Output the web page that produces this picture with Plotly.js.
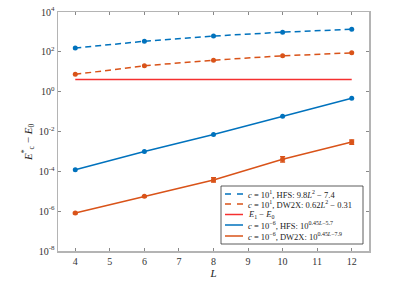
<!DOCTYPE html>
<html><head><meta charset="utf-8">
<script src="https://cdn.plot.ly/plotly-3.0.1.min.js"></script>
<style>html,body{margin:0;padding:0;background:#fff}#c{width:415px;height:300px}</style>
</head><body><div id="c"></div>
<script>
// Data
const L = [4, 6, 8, 10, 12];
const hfsC1 = [155, 340, 620, 975, 1360];
const dw2xC1 = [7.4, 20, 38, 63, 89];
const gapL = [4, 12];
const gapE = [4.1, 4.1];
const hfsC6 = [1.2e-4, 1.0e-3, 7.1e-3, 5.9e-2, 0.47];
const dw2xC6 = [8.0e-7, 5.6e-6, 3.7e-5, 4.0e-4, 2.95e-3];
const dw2xC6ErrPlus = [0.5e-7, 0.4e-6, 1.0e-5, 1.4e-4, 0.8e-3];
const dw2xC6ErrMinus = [0.5e-7, 0.4e-6, 0.8e-5, 1.1e-4, 0.65e-3];
const yTickVals = [1e-8, 1e-6, 1e-4, 1e-2, 1, 1e2, 1e4];
const yTickText = ['10<sup>-8</sup>','10<sup>-6</sup>','10<sup>-4</sup>','10<sup>-2</sup>','10<sup>0</sup>','10<sup>2</sup>','10<sup>4</sup>'];
const xTickVals = [4,5,6,7,8,9,10,11,12];
const legendLabels = [
  '<i>c</i> = 10<sup>1</sup>, HFS: 9.8<i>L</i><sup>2</sup> − 7.4',
  '<i>c</i> = 10<sup>1</sup>, DW2X: 0.62<i>L</i><sup>2</sup> − 0.31',
  '<i>E</i><sub>1</sub> − <i>E</i><sub>0</sub>',
  '<i>c</i> = 10<sup>−6</sup>, HFS: 10<sup>0.45<i>L</i>−5.7</sup>',
  '<i>c</i> = 10<sup>−6</sup>, DW2X: 10<sup>0.45<i>L</i>−7.9</sup>'
];

const BLUE = '#0072BD', ORANGE = '#D95319', RED = '#F53030';
const legendStyles = [
  {color: BLUE, dash: '6px,6px'},
  {color: ORANGE, dash: '6px,6px'},
  {color: RED, dash: 'solid'},
  {color: BLUE, dash: 'solid'},
  {color: ORANGE, dash: 'solid'}
];

const traces = [
  {x: L, y: hfsC1, mode: 'lines+markers', line: {color: BLUE, width: 1.5, dash: '6px,4px'}, marker: {color: BLUE, size: 5}},
  {x: L, y: dw2xC1, mode: 'lines+markers', line: {color: ORANGE, width: 1.5, dash: '6px,4px'}, marker: {color: ORANGE, size: 5}},
  {x: gapL, y: gapE, mode: 'lines', line: {color: RED, width: 1.5}},
  {x: L, y: hfsC6, mode: 'lines+markers', line: {color: BLUE, width: 1.5}, marker: {color: BLUE, size: 5}},
  {x: L, y: dw2xC6, mode: 'lines+markers', line: {color: ORANGE, width: 1.5}, marker: {color: ORANGE, size: 5},
   error_y: {type: 'data', array: dw2xC6ErrPlus, arrayminus: dw2xC6ErrMinus, symmetric: false, color: ORANGE, thickness: 1.5, width: 2.5}}
];

// Plot area in px: x 58..369, y 12..251
const px = v => (v - 58) / 311;
const py = v => (251 - v) / 239;
const rows = [194, 204, 214.5, 225, 236];
const shapes = [{type: 'rect', xref: 'paper', yref: 'paper', x0: px(221), x1: px(363), y0: py(244), y1: py(186),
  line: {color: '#333', width: 0.8}, fillcolor: '#fff', layer: 'above'}];
const annotations = [];
legendStyles.forEach((s, i) => {
  shapes.push({type: 'line', xref: 'paper', yref: 'paper', x0: px(225), x1: px(243), y0: py(rows[i]), y1: py(rows[i]),
    line: {color: s.color, width: 1.5, dash: s.dash}, layer: 'above'});
  annotations.push({xref: 'paper', yref: 'paper', x: px(246), y: py(rows[i]), xanchor: 'left', yanchor: 'middle',
    text: legendLabels[i], showarrow: false, font: {family: 'Liberation Serif', size: 8.5, color: '#222'}});
});
annotations.push({xref: 'paper', yref: 'paper', x: px(28), y: py(143), xanchor: 'center', yanchor: 'middle', textangle: -90,
  text: '<i>E</i><sup>*</sup><sub>c</sub> − <i>E</i><sub>0</sub>', showarrow: false, font: {family: 'Liberation Serif', size: 11, color: '#222'}});

const axisCommon = {showline: true, linecolor: '#b4b4b4', linewidth: 1.5, mirror: 'ticks', ticks: 'inside', ticklen: 3,
  tickcolor: '#888', tickwidth: 1, showgrid: false, zeroline: false,
  tickfont: {family: 'Liberation Serif', size: 10, color: '#333'}};

const layout = {
  width: 415, height: 300,
  margin: {l: 58, r: 46, t: 12, b: 49},
  paper_bgcolor: '#fff', plot_bgcolor: '#fff',
  showlegend: false,
  xaxis: Object.assign({}, axisCommon, {range: [3.5, 12.5], tickvals: xTickVals, ticktext: xTickVals.map(String),
    title: {text: '<i>L</i>', font: {family: 'Liberation Serif', size: 11, color: '#222'}, standoff: 4}}),
  yaxis: Object.assign({}, axisCommon, {type: 'log', range: [-8, 4], tickvals: yTickVals, ticktext: yTickText}),
  shapes: shapes,
  annotations: annotations
};

Plotly.newPlot('c', traces, layout, {displayModeBar: false, staticPlot: true});
</script></body></html>
